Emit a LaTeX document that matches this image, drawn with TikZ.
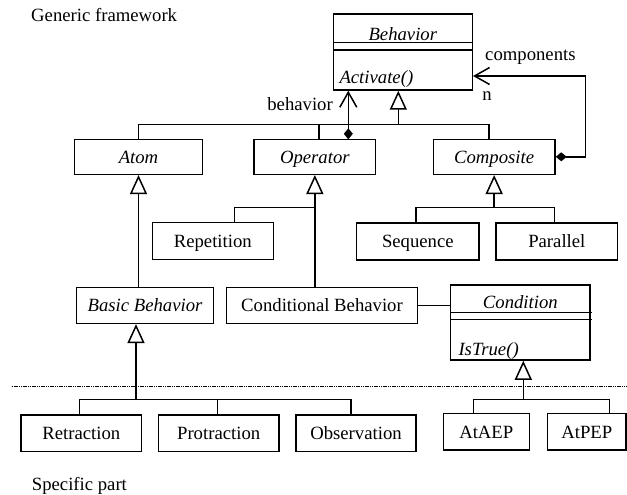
\documentclass[tikz,border=0pt]{standalone}
\usepackage{fontspec}
\setmainfont{Liberation Serif}
\usetikzlibrary{arrows.meta}
\begin{document}
\begin{tikzpicture}[x=1pt,y=-1pt,
  every node/.style={font=\fontsize{18.7}{22}\selectfont},
  ln/.style={line width=1.5pt},
  box/.style={draw, line width=1.5pt, inner sep=0pt, minimum height=35pt, text height=12.8pt, text depth=0pt},
  gen/.style={ln, -{Triangle[open,length=19pt,width=17pt]}},
  comp/.style={ln, {Diamond[length=11pt,width=9pt]}-{Straight Barb[length=15pt,width=17pt,line width=1.5pt]}},
  lbl/.style={inner sep=0pt}
]
\useasboundingbox (0,0) rectangle (627,495);

% labels
\node[lbl, anchor=base west] (gf) at (31,21.7) {Generic framework};
\node[lbl, anchor=base west] (sp) at (31.7,490) {Specific part};

% Behavior class
\node[draw, ln, inner sep=0pt, minimum width=139pt, minimum height=76pt] (behavior) at (402.8,52) {};
\coordinate (bl1) at (333.3,42.7);
\coordinate (bl2) at (333.3,50);
\draw[ln] (bl1) -- (bl1 -| behavior.east);
\draw[ln] (bl2) -- (bl2 -| behavior.east);
\node[lbl, anchor=base] (behname) at (402.8,40.7) {\itshape Behavior};
\node[lbl, anchor=base west] (activate) at (339.3,84) {\itshape Activate()};

% second row
\node[box, minimum width=127.6pt] (atom) at (138.5,156.8) {\itshape Atom};
\node[box, minimum width=121.7pt] (operator) at (314.85,156.8) {\itshape Operator};
\node[box, minimum width=121.7pt] (composite) at (494.15,156.8) {\itshape Composite};

% third row
\node[box, minimum width=121pt, minimum height=37pt] (repetition) at (212.8,241) {Repetition};
\node[box, minimum width=122.3pt, minimum height=37pt] (sequence) at (417.85,241.3) {Sequence};
\node[box, minimum width=121.7pt, minimum height=37pt] (parallel) at (556.85,241.3) {Parallel};

% fourth row
\node[box, minimum width=136.6pt, minimum height=35.8pt] (basicb) at (145,305.5) {\itshape Basic Behavior};
\node[box, minimum width=190.6pt, minimum height=35.6pt] (condbeh) at (322,305.5) {Conditional Behavior};

% Condition class
\node[draw, ln, inner sep=0pt, minimum width=139.3pt, minimum height=75pt] (condition) at (520.35,322.5) {};
\coordinate (cl1) at (450.7,312.3);
\coordinate (cl2) at (450.7,319.3);
\draw[ln] (cl1) -- ([xshift=1.7pt]cl1 -| condition.east);
\draw[ln] (cl2) -- ([xshift=1.7pt]cl2 -| condition.east);
\node[lbl, anchor=base] (condname) at (520.35,308) {\itshape Condition};
\node[lbl, anchor=base west] (istrue) at (458.3,355) {\itshape IsTrue()};

% bottom row
\node[box, minimum width=120.7pt, minimum height=36.7pt] (retraction) at (81.35,433.35) {Retraction};
\node[box, minimum width=120.7pt, minimum height=36.7pt] (protraction) at (218.65,433.35) {Protraction};
\node[box, minimum width=120pt, minimum height=36.7pt] (observation) at (356,433.35) {Observation};
\node[box, minimum width=86pt, minimum height=36.7pt] (ataep) at (486.3,431.65) {AtAEP};
\node[box, minimum width=78.3pt, minimum height=36.7pt] (atpep) at (586.85,431.65) {AtPEP};

% generalization to Behavior
\coordinate (genbar) at (398.3,124.3);
\draw[gen] (genbar) -- (genbar |- behavior.south);
\draw[ln] (atom.north) |- (genbar);
\draw[ln] (genbar) -| ([xshift=-5.15pt]composite.north);
\draw[ln] ([xshift=4.15pt]operator.north) -- ([xshift=4.15pt]operator.north |- genbar);

% composition Operator -> Behavior
\coordinate (opcomp) at (348.3,139.3);
\draw[comp] (opcomp) -- (opcomp |- behavior.south);
\node[lbl, anchor=east] (behlbl) at (333,104) {behavior};

% composition Composite -> Behavior
\coordinate (cturn) at (585.3,76);
\draw[comp] (composite.east) -| (cturn) -- (cturn -| behavior.east);
\node[lbl, anchor=west] (complbl) at (485,57) {components};
\node[lbl] (nlbl) at (487,96) {n};

% Atom -> Basic Behavior
\draw[gen] (atom.south |- basicb.north) -- (atom.south);

% Operator children
\coordinate (opbar) at (314.85,207.3);
\draw[gen] (operator.south |- condbeh.north) -- (operator.south);
\draw[ln] ([xshift=21.5pt]repetition.north) |- (opbar);

% Composite children
\coordinate (cobar) at (494.15,207.3);
\draw[gen] (cobar) -- (composite.south);
\draw[ln] ([xshift=-2pt]sequence.north) |- (cobar) -| ([xshift=-2.5pt]parallel.north);

% Conditional Behavior -- Condition
\draw[ln] (condbeh.east) -- (condbeh.east -| condition.west);

% dotted separator
\coordinate (sepl) at (11.7,386.7);
\coordinate (sepr) at (627,386.7);
\draw[line width=1.4pt, dash pattern=on 1.2pt off 0.6pt, black] (sepl) -- (sepr);

% Basic Behavior children
\coordinate (bbbar) at (136,399.3);
\draw[gen] (bbbar) -- (bbbar |- basicb.south);
\draw[ln] ([xshift=-2pt]retraction.north) |- (bbbar);
\draw[ln] (bbbar) -| ([xshift=-5pt]observation.north);
\draw[ln] ([xshift=-1.35pt]protraction.north) -- ([xshift=-1.35pt]protraction.north |- bbbar);

% Condition children
\coordinate (cdbar) at (523.3,399.3);
\draw[gen] (cdbar) -- (cdbar |- condition.south);
\draw[ln] ([xshift=-13pt]ataep.north) |- (cdbar) -| ([xshift=22.45pt]atpep.north);
\end{tikzpicture}
\end{document}
